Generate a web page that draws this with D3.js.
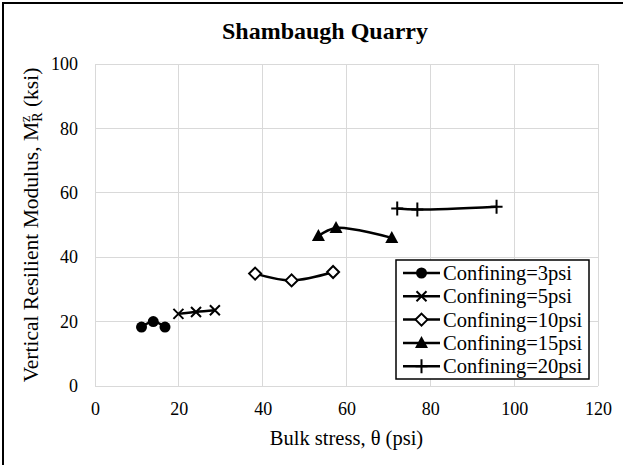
<!DOCTYPE html>
<meta charset="utf-8">
<style>
body { margin: 0; background: #fff; }
svg, svg text, .tick text { font-family: "Liberation Serif", "DejaVu Serif", serif !important; fill: #000; }
.grid line { stroke: #d9d9d9; stroke-width: 1; shape-rendering: crispEdges; }
.tick text { font-size: 18px; }
.series path.line { fill: none; stroke: #000; stroke-width: 2.5; }
</style>
<body>
<div id="chart"></div>
<script src="https://d3js.org/d3.v7.min.js"></script>
<script>

// data
var seriesNames = ["Confining=3psi", "Confining=5psi", "Confining=10psi", "Confining=15psi", "Confining=20psi"];
var seriesMarkers = ["circle", "cross", "diamond", "triangle", "plus"];
var bulkStress = [
  [11.1, 13.9, 16.7],
  [19.9, 24.1, 28.6],
  [38.2, 46.9, 56.8],
  [53.3, 57.5, 70.8],
  [72.1, 76.9, 95.8]
];
var modulus = [
  [18.3, 20.0, 18.3],
  [22.4, 23.0, 23.5],
  [34.9, 32.8, 35.4],
  [46.6, 49.1, 46.0],
  [55.1, 54.8, 55.7]
];
var xTicks = [0, 20, 40, 60, 80, 100, 120];
var yTicks = [0, 20, 40, 60, 80, 100];

var W = 623, H = 465;
var margin = {top: 64, right: 25, bottom: 79, left: 95};
var width = W - margin.left - margin.right,
    height = H - margin.top - margin.bottom;

var x = d3.scaleLinear().domain([0, 120]).range([0, width]);
var y = d3.scaleLinear().domain([0, 100]).range([height, 0]);

var svg = d3.select("#chart").append("svg")
    .attr("width", W)
    .attr("height", H)
    .style("font-family", "'Liberation Serif', 'DejaVu Serif', serif");

// chart border
svg.append("rect")
    .attr("x", 3).attr("y", 3)
    .attr("width", W + 20).attr("height", H + 20)
    .attr("fill", "#fff")
    .attr("stroke", "#000")
    .attr("stroke-width", 2);

// title
svg.append("text")
    .attr("x", 325)
    .attr("y", 39)
    .attr("text-anchor", "middle")
    .style("font-size", "24px")
    .style("font-weight", "bold")
    .text("Shambaugh Quarry");

var g = svg.append("g")
    .attr("transform", "translate(" + margin.left + "," + margin.top + ")");

// gridlines
var grid = g.append("g").attr("class", "grid");
grid.selectAll("line.h").data(yTicks).enter().append("line")
    .attr("x1", 0).attr("x2", width)
    .attr("y1", function(d) { return y(d); })
    .attr("y2", function(d) { return y(d); });
grid.selectAll("line.v").data(xTicks).enter().append("line")
    .attr("y1", 0).attr("y2", height)
    .attr("x1", function(d) { return x(d); })
    .attr("x2", function(d) { return x(d); });

// axes (labels only, lines are the gridlines)
var xAxis = g.append("g")
    .attr("transform", "translate(0," + height + ")")
    .call(d3.axisBottom(x).tickValues(xTicks).tickSize(0).tickPadding(16));
var yAxis = g.append("g")
    .call(d3.axisLeft(y).tickValues(yTicks).tickSize(0).tickPadding(17));
xAxis.select(".domain").remove();
yAxis.select(".domain").remove();
xAxis.attr("font-family", null).attr("font-size", null);
yAxis.attr("font-family", null).attr("font-size", null);

// axis titles
svg.append("text")
    .attr("x", margin.left + width / 2)
    .attr("y", 445)
    .attr("text-anchor", "middle")
    .style("font-size", "20.5px")
    .text("Bulk stress, \u03b8 (psi)");

var yt = svg.append("text")
    .attr("transform", "translate(38," + (margin.top + height / 2) + ") rotate(-90)")
    .attr("text-anchor", "middle")
    .style("font-size", "21.5px");
yt.append("tspan").text("Vertical Resilient Modulus, M");
yt.append("tspan").attr("dy", -8).style("font-size", "14px").text("z");
yt.append("tspan").attr("dy", 12).attr("dx", -6).style("font-size", "14px").text("R");
yt.append("tspan").attr("dy", -4).text(" (ksi)");

// marker drawing
function drawMarker(sel, type) {
  if (type === "circle") {
    sel.append("circle").attr("r", 5.5).attr("fill", "#000");
  } else if (type === "cross") {
    sel.append("path").attr("d", "M-5,-5L5,5M-5,5L5,-5")
      .attr("stroke", "#000").attr("stroke-width", 2).attr("fill", "none");
  } else if (type === "diamond") {
    sel.append("path").attr("d", "M0,-6L6,0L0,6L-6,0Z")
      .attr("stroke", "#000").attr("stroke-width", 2).attr("fill", "#fff");
  } else if (type === "triangle") {
    sel.append("path").attr("d", "M0,-7L6.5,5L-6.5,5Z").attr("fill", "#000");
  } else if (type === "plus") {
    sel.append("path").attr("d", "M0,-7L0,7M-6,0L6,0")
      .attr("stroke", "#000").attr("stroke-width", 2).attr("fill", "none");
  }
}

var line = d3.line()
    .x(function(d) { return x(d[0]); })
    .y(function(d) { return y(d[1]); })
    .curve(d3.curveCatmullRom.alpha(0.5));

seriesNames.forEach(function(name, i) {
  var pts = bulkStress[i].map(function(v, j) { return [v, modulus[i][j]]; });
  var s = g.append("g").attr("class", "series");
  s.append("path").attr("class", "line").attr("d", line(pts));
  s.selectAll("g.m").data(pts).enter().append("g")
    .attr("class", "m")
    .attr("transform", function(d) { return "translate(" + x(d[0]) + "," + y(d[1]) + ")"; })
    .each(function() { drawMarker(d3.select(this), seriesMarkers[i]); });
});

// legend
var lg = svg.append("g").attr("transform", "translate(396,260)");
lg.append("rect")
    .attr("width", 193).attr("height", 119)
    .attr("fill", "#fff").attr("stroke", "#000").attr("stroke-width", 1.5);
seriesNames.forEach(function(name, i) {
  var row = lg.append("g").attr("transform", "translate(0," + (13 + i * 23.3) + ")");
  row.append("line").attr("x1", 7).attr("x2", 44)
    .attr("stroke", "#000").attr("stroke-width", 2.5);
  var m = row.append("g").attr("transform", "translate(25.5,0)");
  drawMarker(m, seriesMarkers[i]);
  row.append("text").attr("x", 47).attr("y", 7)
    .style("font-size", "20.5px").text(name);
});

</script>
</body>
